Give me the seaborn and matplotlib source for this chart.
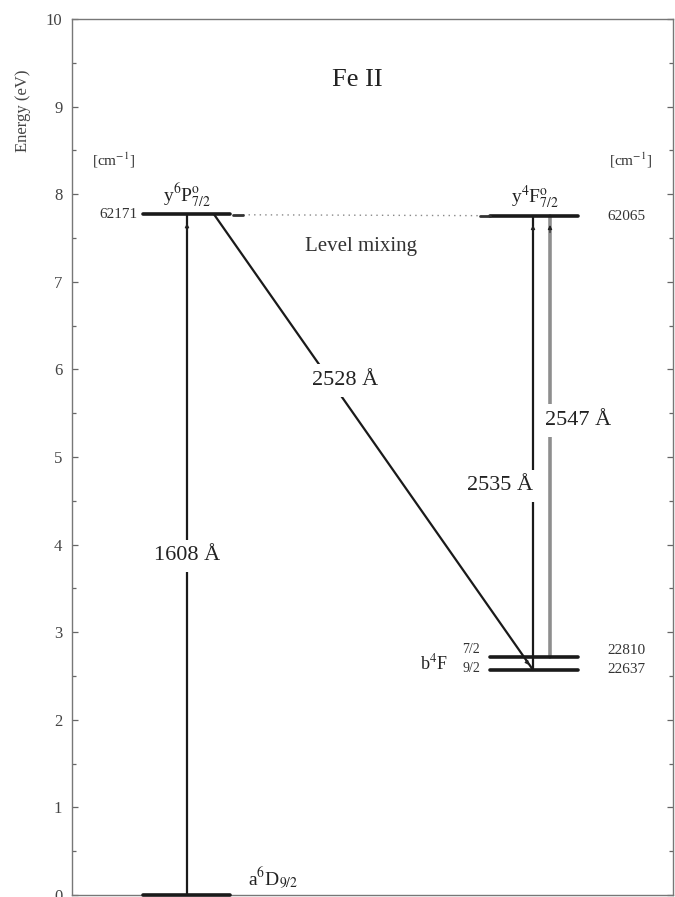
import matplotlib
matplotlib.use("Agg")
import matplotlib.pyplot as plt
import seaborn as sns
import pandas as pd

# ---- data ----
level_names = ["y6P", "y4F", "b4F72", "b4F92", "a6D"]
level_energy_ev = [7.77, 7.75, 2.72, 2.57, 0.0]
level_cm = ["62171", "62065", "22810", "22637", ""]
level_x0 = [143, 490, 490, 490, 143]
level_x1 = [230, 578, 578, 578, 230]

trans_labels = ["1608 Å", "2528 Å", "2535 Å", "2547 Å"]
trans_x_lo = [187, 533, 533, 550]
trans_x_hi = [187, 214, 533, 550]
trans_e_lo = [0.0, 2.57, 2.57, 2.72]
trans_e_hi = [7.77, 7.77, 7.75, 7.75]
trans_label_x = [187, 345, 500, 578]
trans_label_e = [3.87, 5.87, 4.67, 5.42]
trans_colors = ["#1a1a1a", "#1a1a1a", "#1a1a1a", "#8e8e8e"]
trans_lw = [1.6, 1.6, 1.6, 2.6]

yticks = [0, 1, 2, 3, 4, 5, 6, 7, 8, 9, 10]

sns.set_theme(style="white")
plt.rcParams['font.family'] = ['Liberation Serif', 'DejaVu Serif']
plt.rcParams['mathtext.fontset'] = 'stix'

fig = plt.figure(figsize=(6.75, 8.97), dpi=100)
ax = fig.add_axes([72/675, 2/897, 601/675, 876/897])
ax.set_xlim(72, 673)
ax.set_ylim(0, 10)

# transitions
for i in range(len(trans_labels)):
    df = pd.DataFrame({"x": [trans_x_lo[i], trans_x_hi[i]],
                       "y": [trans_e_lo[i], trans_e_hi[i]]})
    sns.lineplot(data=df, x="x", y="y", ax=ax, color=trans_colors[i],
                 lw=trans_lw[i], sort=False, estimator=None, zorder=2)
    ax.text(trans_label_x[i], trans_label_e[i], trans_labels[i], fontsize=16,
            ha="center", va="center", color="#222",
            bbox=dict(facecolor="white", edgecolor="none", pad=5), zorder=4)

# small arrowheads
for (x, e) in [(187, 7.70), (533, 7.68), (550, 7.68)]:
    ax.annotate("", xy=(x, e), xytext=(x, e - 0.15),
                arrowprops=dict(arrowstyle="-|>", color="#222", lw=0.8,
                                mutation_scale=6), zorder=3)
ax.annotate("", xy=(531, 2.60), xytext=(524, 2.70),
            arrowprops=dict(arrowstyle="-|>", color="#222", lw=0.8,
                            mutation_scale=6), zorder=3)

# levels
for i in range(len(level_names)):
    df = pd.DataFrame({"x": [level_x0[i], level_x1[i]],
                       "y": [level_energy_ev[i], level_energy_ev[i]]})
    sns.lineplot(data=df, x="x", y="y", ax=ax, color="#1a1a1a", lw=2.6,
                 sort=False, estimator=None, zorder=3, clip_on=False)

# level mixing dotted connection
mix_df = pd.DataFrame({"x": [243, 482], "y": [7.765, 7.755]})
sns.lineplot(data=mix_df, x="x", y="y", ax=ax, color="#888", lw=1.0,
             linestyle=(0, (1, 3)), sort=False, estimator=None, zorder=2)
ax.plot([233, 243], [7.765, 7.765], color="#333", lw=2.0, zorder=3)
ax.plot([480, 490], [7.755, 7.755], color="#333", lw=2.0, zorder=3)

# cm^-1 value labels
ax.text(138, 7.77, level_cm[0], fontsize=11, ha="right", va="center", color="#333")
ax.text(607, 7.75, level_cm[1], fontsize=11, ha="left", va="center", color="#333")
ax.text(607, 2.79, level_cm[2], fontsize=11, ha="left", va="center", color="#333")
ax.text(607, 2.57, level_cm[3], fontsize=11, ha="left", va="center", color="#333")
ax.text(114, 8.39, r"[cm$^{-1}$]", fontsize=11, ha="center", va="center", color="#333")
ax.text(631, 8.39, r"[cm$^{-1}$]", fontsize=11, ha="center", va="center", color="#333")

# level names
ax.text(187, 7.83, r"y$^{6}$P$^{\rm o}_{7/2}$", fontsize=14, ha="center", va="bottom", color="#222")
ax.text(535, 7.81, r"y$^{4}$F$^{\rm o}_{7/2}$", fontsize=14, ha="center", va="bottom", color="#222")
ax.text(248, 0.05, r"a$^{6}$D$_{9/2}$", fontsize=14, ha="left", va="bottom", color="#222")
ax.text(434, 2.64, r"b$^{4}$F", fontsize=13, ha="center", va="center", color="#222")
ax.text(471, 2.80, "7/2", fontsize=10, ha="center", va="center", color="#333")
ax.text(471, 2.59, "9/2", fontsize=10, ha="center", va="center", color="#333")

ax.text(357, 9.3, "Fe II", fontsize=19, ha="center", va="center", color="#222")
ax.text(361, 7.4, "Level mixing", fontsize=15, ha="center", va="center", color="#333")

# axes styling
ax.set_yticks(yticks)
ax.set_yticklabels([str(t) for t in yticks], fontsize=12, color="#444")
ax.set_yticks([t + 0.5 for t in yticks[:-1]], minor=True)
ax.set_xticks([])
ax.set_xlabel("")
ax.set_ylabel("Energy (eV)", fontsize=12, color="#444")
ax.yaxis.set_label_coords(-0.068, 0.895)
ax.tick_params(axis="y", which="both", direction="in", left=True, right=True,
               color="#666", width=0.9, pad=7)
ax.tick_params(axis="y", which="major", length=4)
ax.tick_params(axis="y", which="minor", length=3)
for sp in ax.spines.values():
    sp.set_visible(True)
    sp.set_color("#777")
    sp.set_linewidth(1.0)

fig.savefig("out.png", dpi=100)
